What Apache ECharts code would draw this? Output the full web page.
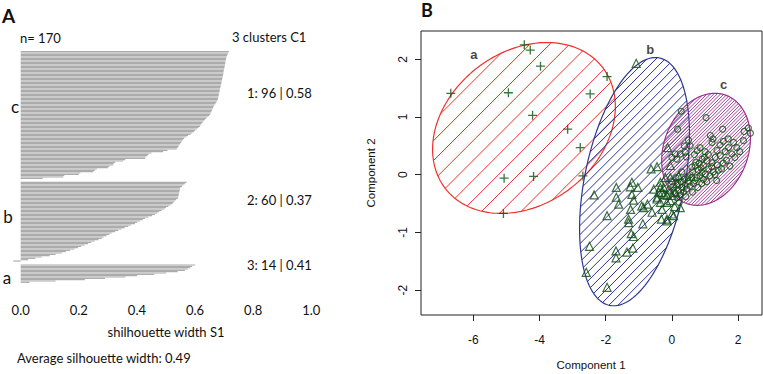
<!DOCTYPE html>
<html>
<head>
<meta charset="utf-8">
<script src="https://cdn.jsdelivr.net/npm/echarts@6/dist/echarts.min.js"></script>
<style>
  html, body { margin: 0; padding: 0; background: #fff; }
  #chart { width: 763px; height: 374px; }
</style>
</head>
<body>
<div id="chart"></div>
<script>
// silhouette widths per cluster, sorted from top to bottom
const silC = [
  0.716,0.714,0.712,0.710,0.708,0.707,0.706,0.705,0.704,0.704,
  0.703,0.702,0.701,0.700,0.699,0.698,0.698,0.697,0.696,0.695,
  0.694,0.693,0.692,0.691,0.690,0.689,0.688,0.687,0.686,0.685,
  0.684,0.683,0.682,0.681,0.680,0.679,0.678,0.676,0.673,0.670,
  0.667,0.664,0.662,0.660,0.658,0.656,0.654,0.652,0.648,0.643,
  0.638,0.634,0.630,0.626,0.622,0.619,0.617,0.612,0.606,0.600,
  0.596,0.590,0.584,0.576,0.568,0.562,0.558,0.555,0.552,0.549,
  0.546,0.543,0.540,0.537,0.505,0.490,0.450,0.440,0.436,0.430,
  0.428,0.360,0.352,0.325,0.320,0.318,0.305,0.300,0.262,0.255,
  0.250,0.205,0.200,0.150,0.146,0.076
];
const silB = [
  0.571,0.565,0.560,0.555,0.550,0.548,0.547,0.546,0.545,0.544,
  0.543,0.542,0.541,0.535,0.530,0.526,0.522,0.515,0.508,0.500,
  0.494,0.485,0.477,0.470,0.462,0.452,0.440,0.428,0.420,0.410,
  0.400,0.393,0.380,0.370,0.358,0.347,0.336,0.325,0.313,0.305,
  0.295,0.285,0.279,0.268,0.255,0.243,0.232,0.220,0.208,0.197,
  0.185,0.170,0.155,0.141,0.120,0.100,0.072,0.050,0.026,-0.025
];
const silA = [0.600,0.590,0.583,0.575,0.565,0.540,0.500,0.460,0.400,0.360,0.290,0.221,0.120,0.030];
const silTicks = [0, 0.2, 0.4, 0.6, 0.8, 1.0];
const clusterInfo = ['1: 96 | 0.58', '2: 60 | 0.37', '3: 14 | 0.41'];

// clusplot: component scores of each cluster
const ptsA = [
  [-6.68,1.41],[-4.46,2.25],[-4.28,2.16],[-3.97,1.88],[-4.94,1.42],[-4.21,1.03],[-3.15,0.79],
  [-5.07,-0.06],[-4.18,-0.03],[-2.69,-0.02],[-5.09,-0.67],[-1.96,1.70],[-2.47,1.40],[-2.77,0.47]
];
const ptsB = [
  [-1.08,1.93],[-0.13,0.47],[-0.63,0.10],[-0.45,0.14],[-0.05,-0.05],[0.20,-0.02],[-2.35,-0.35],
  [-1.68,-0.22],[-1.68,-0.39],[-1.61,-0.51],[-1.26,-0.21],[-1.03,-0.22],[-1.21,-0.34],[-1.16,-0.44],
  [-0.35,-0.22],[-0.23,-0.34],[-0.45,-0.39],[-0.15,-0.48],[-0.74,-0.51],[-0.91,-0.54],[-0.60,-0.65],
  [0.25,-0.57],[0.00,-0.68],[-0.32,-0.77],[-0.15,-0.77],[-1.96,-0.71],[-1.31,-0.77],[-1.31,-0.83],
  [-0.88,-0.85],[-1.23,-1.02],[-1.16,-1.07],[-2.49,-1.24],[-1.69,-1.32],[-1.69,-1.44],[-1.36,-1.34],
  [-1.18,-1.27],[-2.59,-1.69],[-1.96,-1.95],[-0.05,0.16],[-0.35,-0.13],[-0.25,-0.22],[-0.30,-0.31],
  [-0.15,-0.36],[-0.45,-0.42],[-0.35,-0.48],[-0.05,-0.45],[0.00,-0.36],[0.10,-0.31],[-0.15,-0.80],
  [0.05,-0.71],[-0.86,-0.57],[-1.21,-0.13],[-0.10,-0.25],[0.15,-0.15],[-0.20,-0.05],[-0.40,-0.30],
  [0.08,-0.55],[-0.55,-0.25],[-1.25,-0.60],[-0.30,-0.60]
];
const ptsC = [
  [0.28,1.10],[1.03,0.99],[0.17,0.79],[1.53,0.79],[0.50,0.60],[0.37,0.50],[1.16,0.68],[1.24,0.62],
  [2.18,0.75],[2.31,0.81],[2.37,0.72],[2.16,0.59],[1.21,0.56],[0.55,0.50],[0.85,0.47],[0.76,0.42],
  [0.10,0.36],[0.25,0.36],[0.00,0.30],[0.15,0.27],[0.40,0.39],[0.43,0.31],[1.86,0.56],[1.71,0.47],
  [1.61,0.40],[1.81,0.36],[1.96,0.47],[1.36,0.42],[1.46,0.33],[1.31,0.30],[1.21,0.21],[1.36,0.17],
  [0.60,0.13],[0.70,0.16],[0.91,0.27],[1.06,0.24],[0.95,0.16],[1.11,0.10],[0.91,0.04],[1.01,0.01],
  [1.25,0.05],[1.40,0.08],[1.55,0.20],[1.65,0.25],[1.50,0.10],[0.85,-0.02],[0.80,0.08],[0.75,-0.05],
  [0.70,-0.10],[0.65,-0.15],[0.60,-0.05],[0.55,-0.20],[0.50,-0.12],[0.45,-0.25],[0.40,-0.18],[0.35,-0.30],
  [0.30,-0.22],[0.25,-0.35],[0.20,-0.28],[0.15,-0.40],[0.10,-0.32],[0.05,-0.20],[0.00,-0.12],[-0.05,-0.30],
  [0.95,-0.08],[1.05,-0.12],[1.15,-0.02],[1.20,0.14],[1.30,0.00],[0.88,0.12],[0.98,0.30],[1.10,0.35],
  [1.00,0.40],[1.45,0.52],[1.55,0.58],[1.70,0.62],[0.62,0.05],[0.72,0.22],[0.82,0.20],[0.55,0.00],
  [0.48,-0.05],[0.38,-0.08],[0.28,-0.12],[0.18,-0.15],[0.12,-0.05],[0.30,0.05],[0.42,-0.38],[0.22,-0.48],
  [0.62,-0.30],[0.78,-0.22],[0.90,-0.15],[1.75,0.15],[1.90,0.30],[2.05,0.40],[1.35,-0.10],[0.68,0.35]
];
const compXTicks = [-6, -4, -2, 0, 2];
const compYTicks = [-2, -1, 0, 1, 2];
// ellipses: centre x, centre y, half width, half height, correlation
const ellA = [-4.47, 0.81, 2.76, 1.48, 0.25];
const ellB = [-1.13, -0.12, 1.66, 2.15, 0.38];
const ellC = [1.03, 0.44, 1.34, 0.97, 0.20];
const clusterTags = [[-5.98, 2.09, 'a'], [-0.66, 2.17, 'b'], [1.56, 1.57, 'c']];

const chart = echarts.init(document.getElementById('chart'), null, { renderer: 'svg' });

// rows of the silhouette plot, two empty rows between clusters
const silRows = silC.concat(['-', '-'], silB, ['-', '-'], silA);
const rowNames = silRows.map((v, i) => String(i));

const leftFont = 'Lato';
const rightFont = 'Liberation Sans';
const ptColor = '#0e4f12';

// "/" hatch lines clipped to a polygon (pixel coordinates), as path data
function hatchPath(poly, gap) {
  const dx = Math.SQRT1_2, dy = -Math.SQRT1_2;
  const nx = -dy, ny = dx;
  const s = poly.map(p => p[0] * nx + p[1] * ny);
  const lo = Math.min.apply(null, s), hi = Math.max.apply(null, s);
  let d = '';
  for (let k = Math.ceil(lo / gap); k * gap <= hi; k++) {
    const v = k * gap;
    const hits = [];
    for (let i = 0; i < poly.length; i++) {
      const j = (i + 1) % poly.length;
      if ((s[i] - v) * (s[j] - v) < 0) {
        const t = (v - s[i]) / (s[j] - s[i]);
        hits.push([poly[i][0] + t * (poly[j][0] - poly[i][0]), poly[i][1] + t * (poly[j][1] - poly[i][1])]);
      }
    }
    hits.sort((p, q) => (p[0] * dx + p[1] * dy) - (q[0] * dx + q[1] * dy));
    for (let m = 0; m + 1 < hits.length; m += 2) {
      d += 'M' + hits[m][0].toFixed(2) + ' ' + hits[m][1].toFixed(2) +
           'L' + hits[m + 1][0].toFixed(2) + ' ' + hits[m + 1][1].toFixed(2);
    }
  }
  return d;
}

function ellipseSeries(ell, color, gap, lw) {
  return {
    type: 'custom',
    xAxisIndex: 1,
    yAxisIndex: 1,
    silent: true,
    data: [[ell[0], ell[1]]],
    renderItem(params, api) {
      const cx = ell[0], cy = ell[1], sx = ell[2], sy = ell[3], r = ell[4];
      const poly = [];
      for (let i = 0; i < 200; i++) {
        const t = i / 200 * 2 * Math.PI;
        poly.push(api.coord([cx + sx * Math.cos(t), cy + sy * (r * Math.cos(t) + Math.sqrt(1 - r * r) * Math.sin(t))]));
      }
      return {
        type: 'group',
        children: [
          { type: 'path', shape: { pathData: hatchPath(poly, gap) },
            style: { fill: 'none', stroke: color, lineWidth: lw } },
          { type: 'polygon', shape: { points: poly },
            style: { fill: 'none', stroke: color, lineWidth: 1.2 } }
        ]
      };
    }
  };
}

function txt(x, y, text, size, opts) {
  opts = opts || {};
  return {
    type: 'text', x: x, y: y, rotation: opts.rot || 0,
    style: {
      text: text, fontSize: size, fontFamily: opts.font || leftFont,
      fontWeight: opts.bold ? 'bold' : 'normal', fill: '#111',
      textAlign: opts.align || 'left', textVerticalAlign: 'middle'
    }
  };
}

chart.setOption({
  backgroundColor: '#fff',
  animation: false,
  grid: [
    { left: 20.7, top: 51, width: 290.6, height: 232 },
    { left: 421, top: 31, width: 341, height: 284, show: true, borderColor: '#222', borderWidth: 1 }
  ],
  xAxis: [
    {
      gridIndex: 0, type: 'value', min: 0, max: 1, interval: 0.2, offset: 10,
      axisLine: { onZero: false, lineStyle: { color: '#222' } },
      axisTick: { length: 5, lineStyle: { color: '#222' } },
      axisLabel: { margin: 10, color: '#111', fontFamily: leftFont, fontSize: 13, formatter: v => v.toFixed(1) },
      splitLine: { show: false }
    },
    {
      gridIndex: 1, type: 'value', min: -7.58, max: 2.72,
      axisLine: { show: false, onZero: false },
      axisTick: { customValues: compXTicks, length: 6, lineStyle: { color: '#222' } },
      axisLabel: { customValues: compXTicks, margin: 19, color: '#111', fontFamily: rightFont, fontSize: 12 },
      splitLine: { show: false }
    }
  ],
  yAxis: [
    { gridIndex: 0, type: 'category', inverse: true, data: rowNames, show: false },
    {
      gridIndex: 1, type: 'value', min: -2.43, max: 2.49,
      axisLine: { show: false, onZero: false },
      axisTick: { customValues: compYTicks, length: 6, lineStyle: { color: '#222' } },
      axisLabel: { customValues: compYTicks, rotate: 90, margin: 12, color: '#111', fontFamily: rightFont, fontSize: 12 },
      splitLine: { show: false }
    }
  ],
  series: [
    {
      type: 'bar', xAxisIndex: 0, yAxisIndex: 0, data: silRows, clip: false,
      barCategoryGap: '10%', itemStyle: { color: '#acacac' }, silent: true
    },
    ellipseSeries(ellA, '#f0302a', 14, 1),
    ellipseSeries(ellB, '#2c3592', 6.4, 1),
    ellipseSeries(ellC, '#9a2f8e', 2.4, 0.9),
    {
      type: 'scatter', xAxisIndex: 1, yAxisIndex: 1, data: ptsA,
      symbol: 'path://M0,5L10,5M5,0L5,10', symbolSize: 9,
      itemStyle: { color: 'none', borderColor: ptColor, borderWidth: 1.3 }
    },
    {
      type: 'scatter', xAxisIndex: 1, yAxisIndex: 1, data: ptsB,
      symbol: 'triangle', symbolSize: 8,
      itemStyle: { color: 'none', borderColor: ptColor, borderWidth: 1.2 }
    },
    {
      type: 'scatter', xAxisIndex: 1, yAxisIndex: 1, data: ptsC,
      symbol: 'circle', symbolSize: 6,
      itemStyle: { color: 'none', borderColor: ptColor, borderWidth: 1.1 }
    },
    {
      type: 'scatter', xAxisIndex: 1, yAxisIndex: 1, data: clusterTags,
      symbolSize: 0, silent: true,
      label: {
        show: true, position: 'inside', formatter: p => p.data[2],
        color: '#111', fontFamily: rightFont, fontSize: 13, fontWeight: 'bold'
      }
    }
  ],
  graphic: [
    txt(8.5, 15, 'A', 19, { bold: true, align: 'center' }),
    txt(427, 10, 'B', 18, { bold: true, align: 'center' }),
    txt(20, 38, 'n= 170', 13),
    txt(232, 37, '3 clusters C1', 13),
    txt(247, 93, clusterInfo[0], 13),
    txt(247, 200, clusterInfo[1], 13),
    txt(247, 265, clusterInfo[2], 13),
    txt(15, 106, 'c', 17, { align: 'center' }),
    txt(8, 216, 'b', 17, { align: 'center' }),
    txt(7, 277, 'a', 17, { align: 'center' }),
    txt(166, 332, 'shilhouette width S1', 13, { align: 'center' }),
    txt(17, 358, 'Average silhouette width: 0.49', 13),
    txt(591, 365, 'Component 1', 11.5, { font: rightFont, align: 'center' }),
    txt(371, 173, 'Component 2', 11.5, { font: rightFont, align: 'center', rot: Math.PI / 2 })
  ]
});
</script>
</body>
</html>
